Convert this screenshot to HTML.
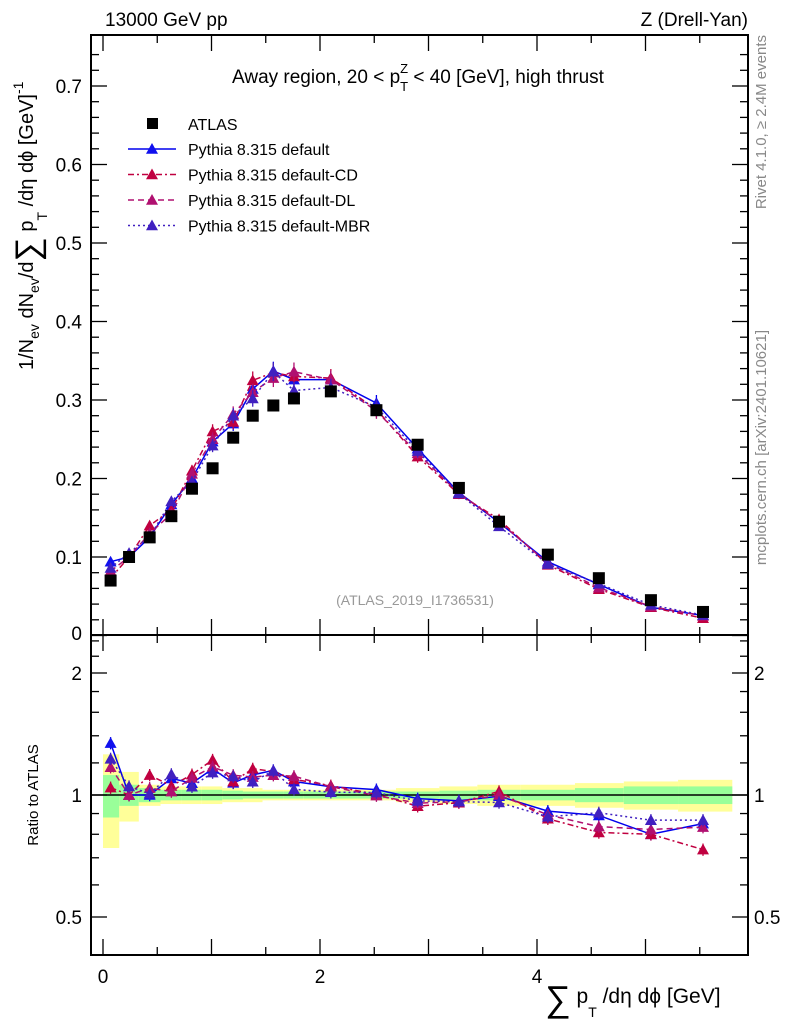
<!DOCTYPE html>
<html><head><meta charset="utf-8"><style>
body{margin:0;background:#fff;}
svg text{font-family:"Liberation Sans",sans-serif;}
</style></head><body>
<svg id="c" width="786" height="1024" xmlns="http://www.w3.org/2000/svg">
<g id="g"></g>
</svg>
<script>
const xs=[0.07,0.24,0.43,0.63,0.82,1.01,1.2,1.38,1.57,1.76,2.1,2.52,2.9,3.28,3.65,4.1,4.57,5.05,5.53];
const edges=[0,0.15,0.33,0.53,0.72,0.91,1.1,1.29,1.47,1.66,1.85,2.35,2.7,3.1,3.45,3.85,4.35,4.8,5.3,5.8];
const atlas=[0.07,0.1,0.125,0.152,0.187,0.213,0.252,0.28,0.293,0.302,0.311,0.287,0.243,0.188,0.145,0.103,0.073,0.045,0.03];
const pDefault=[0.094,0.1,0.125,0.167,0.2,0.247,0.27,0.314,0.337,0.326,0.326,0.296,0.238,0.182,0.144,0.094,0.065,0.036,0.0255];
const pCD=[0.073,0.1,0.14,0.16,0.21,0.26,0.272,0.325,0.335,0.33,0.328,0.288,0.228,0.18,0.148,0.09,0.059,0.036,0.022];
const pDL=[0.082,0.1,0.13,0.155,0.206,0.25,0.282,0.31,0.328,0.336,0.326,0.286,0.232,0.181,0.145,0.092,0.061,0.037,0.025];
const pMBR=[0.086,0.105,0.126,0.171,0.196,0.242,0.28,0.302,0.336,0.312,0.316,0.291,0.235,0.181,0.139,0.091,0.066,0.039,0.026];
const green=[0.12,0.06,0.04,0.03,0.03,0.03,0.025,0.02,0.02,0.02,0.02,0.02,0.02,0.025,0.03,0.03,0.04,0.05,0.05];
const yellow=[0.26,0.14,0.06,0.05,0.05,0.05,0.04,0.04,0.03,0.03,0.03,0.03,0.04,0.05,0.06,0.06,0.07,0.08,0.09];
const yTicks=[0.1,0.2,0.3,0.4,0.5,0.6,0.7];
const xTicks=[0,2,4];
const rTicks=[0.5,1,2];

const NS="http://www.w3.org/2000/svg";
const G=document.getElementById('g');
const L=91,R=748,T=35,MB=635,RB=955;
const X=v=>103+v*108.5;
const Y=v=>635.5-v*785;
const RY=v=>795-Math.log2(v)*122;
function el(t,a,p){const e=document.createElementNS(NS,t);for(const k in a)e.setAttribute(k,a[k]);(p||G).appendChild(e);return e;}
function tx(s,x,y,a){const e=el('text',Object.assign({x:x,y:y},a));e.textContent=s;return e;}

// ratio bands
edges.slice(0,-1).forEach((e0,i)=>{
  const x0=X(e0),x1=X(edges[i+1]);
  const b=el('rect',{x:x0,y:RY(1+yellow[i]),width:x1-x0,height:RY(1-yellow[i])-RY(1+yellow[i]),fill:'#ffff99'});
  
  
  const g2=el('rect',{x:x0,y:RY(1+green[i]),width:x1-x0,height:RY(1-green[i])-RY(1+green[i]),fill:'#99ff99'});
  
  
});
el('line',{x1:L,x2:R,y1:RY(1),y2:RY(1),stroke:'#000','stroke-width':1.5});

// frames
const f1=el('rect',{x:L,y:T,width:R-L,height:MB-T,fill:'none',stroke:'#000','stroke-width':2});


const f2=el('rect',{x:L,y:MB,width:R-L,height:RB-MB,fill:'none',stroke:'#000','stroke-width':2});



// main y ticks
for(let v=0;v<=0.76;v+=0.02){const y=Y(v);const maj=Math.abs(v*10-Math.round(v*10))<1e-6;
  el('line',{x1:L,x2:L+(maj?16:8),y1:y,y2:y,stroke:'#000','stroke-width':1.3});
  el('line',{x1:R,x2:R-(maj?16:8),y1:y,y2:y,stroke:'#000','stroke-width':1.3});}
yTicks.forEach(v=>{const t=tx(v.toFixed(1),82,Y(v)+7,{'font-size':19,'text-anchor':'end'});
  });
tx('0',82,640,{'font-size':19,'text-anchor':'end'});
// x ticks
for(let v=0;v<=5.9;v+=0.5){const x=X(v);const maj=v%1===0;
  [[MB,-1],[MB,1],[RB,-1],[T,1]].forEach(([y,d])=>el('line',{x1:x,x2:x,y1:y,y2:y+d*(maj?16:8),stroke:'#000','stroke-width':1.3}));}
xTicks.forEach(v=>{const t=tx(String(v),X(v),983,{'font-size':19,'text-anchor':'middle'});
  });
// ratio ticks
[0.5,0.6,0.7,0.8,0.9,1,1.2,1.4,1.6,1.8,2,2.2,2.4].forEach(v=>{const y=RY(v);const maj=rTicks.includes(v);
  el('line',{x1:L,x2:L+(maj?16:8),y1:y,y2:y,stroke:'#000','stroke-width':1.3});
  el('line',{x1:R,x2:R-(maj?16:8),y1:y,y2:y,stroke:'#000','stroke-width':1.3});});
rTicks.forEach(v=>{
  const t1=tx(String(v),82,RY(v)+7,{'font-size':19,'text-anchor':'end'});
  
  const t2=tx(String(v),754,RY(v)+7,{'font-size':19});
  });

// series
const series=[
 {name:'default',d:pDefault,c:'#0000ee',dash:'',tri:'#1010ee'},
 {name:'cd',d:pCD,c:'#c00040',dash:'6,3,2,3',tri:'#c00040'},
 {name:'dl',d:pDL,c:'#b01070',dash:'6,4',tri:'#b01070'},
 {name:'mbr',d:pMBR,c:'#4020c0',dash:'2,3',tri:'#4020c0'}];
function triPts(x,y,s){return `${x},${y-s} ${x-s},${y+s*0.8} ${x+s},${y+s*0.8}`;}
series.forEach(s=>{
  const pl=el('polyline',{points:xs.map((x,i)=>X(x)+','+Y(s.d[i])).join(' '),fill:'none',stroke:s.c,'stroke-width':1.5,'stroke-dasharray':s.dash});
  
  const rl=el('polyline',{points:xs.map((x,i)=>X(x)+','+RY(s.d[i]/atlas[i])).join(' '),fill:'none',stroke:s.c,'stroke-width':1.5,'stroke-dasharray':s.dash});
  
  xs.forEach((x,i)=>{
    const e=s.d[i]*0.035,re=0.035*s.d[i]/atlas[i];
    el('line',{x1:X(x),x2:X(x),y1:Y(s.d[i]-e),y2:Y(s.d[i]+e),stroke:s.c,'stroke-width':1.3});
    el('line',{x1:X(x),x2:X(x),y1:RY(s.d[i]/atlas[i]-re),y2:RY(s.d[i]/atlas[i]+re),stroke:s.c,'stroke-width':1.3});
    const m=el('polygon',{points:triPts(X(x),Y(s.d[i]),6),fill:s.tri});
    
    const rm=el('polygon',{points:triPts(X(x),RY(s.d[i]/atlas[i]),6),fill:s.tri});
    
  });
});
atlas.forEach((v,i)=>{const r=el('rect',{x:X(xs[i])-6,y:Y(v)-6,width:12,height:12,fill:'#000'});
  });

// legend
const lg=el('g',{});

const lr0=el('rect',{x:147,y:118,width:11,height:11,fill:'#000'},lg);
tx('ATLAS',188,130,{'font-size':16});
const labels=['Pythia 8.315 default','Pythia 8.315 default-CD','Pythia 8.315 default-DL','Pythia 8.315 default-MBR'];
series.forEach((s,i)=>{const y=149+i*25.5;
  el('line',{x1:128,x2:176,y1:y,y2:y,stroke:s.c,'stroke-width':1.5,'stroke-dasharray':s.dash},lg);
  el('polygon',{points:triPts(152,y,6),fill:s.tri},lg);
  const t=tx(labels[i],188,y+6,{'font-size':16},lg);
  });

// texts
let t;
t=tx('13000 GeV pp',105,26,{'font-size':19});
t=tx('Z (Drell-Yan)',748,26,{'font-size':19,'text-anchor':'end'});
t=el('text',{x:418,y:83,'font-size':19,'text-anchor':'middle'});
t.innerHTML='Away region, 20 &lt; p<tspan font-size="13" dy="8">T</tspan><tspan font-size="13" dx="-8" dy="-18">Z</tspan><tspan dy="10"> &lt; 40 [GeV], high thrust</tspan>';

t=tx('(ATLAS_2019_I1736531)',415,605,{'font-size':14,'text-anchor':'middle',fill:'#999'});
t=tx('Rivet 4.1.0, \u2265 2.4M events',0,0,{'font-size':15,fill:'#888','text-anchor':'end',transform:'translate(766,35) rotate(-90)'});
t=tx('mcplots.cern.ch [arXiv:2401.10621]',0,0,{'font-size':15,fill:'#888','text-anchor':'end',transform:'translate(766,330) rotate(-90)'});
t=tx('Ratio to ATLAS',0,0,{'font-size':15,'text-anchor':'middle',transform:'translate(38,795) rotate(-90)'});
t=el('text',{'font-size':20,transform:'translate(33,370) rotate(-90)'});
t.innerHTML='1/N<tspan font-size="14" dy="6">ev</tspan><tspan dy="-6"> dN</tspan><tspan font-size="14" dy="6">ev</tspan><tspan dy="-6">/d</tspan><tspan font-size="34" dy="6">\u2211</tspan><tspan dy="-6"> p</tspan><tspan font-size="14" dy="14">T</tspan><tspan dy="-14"> /d\u03b7 d\u03d5  [GeV]</tspan><tspan font-size="14" dy="-10">-1</tspan>';

t=el('text',{x:545,y:1003,'font-size':21});
t.innerHTML='<tspan font-size="36" dy="8">\u2211</tspan><tspan dy="-8"> p</tspan><tspan font-size="14" dy="14">T</tspan><tspan dy="-14"> /d\u03b7 d\u03d5 [GeV]</tspan>';

</script>
</body></html>
